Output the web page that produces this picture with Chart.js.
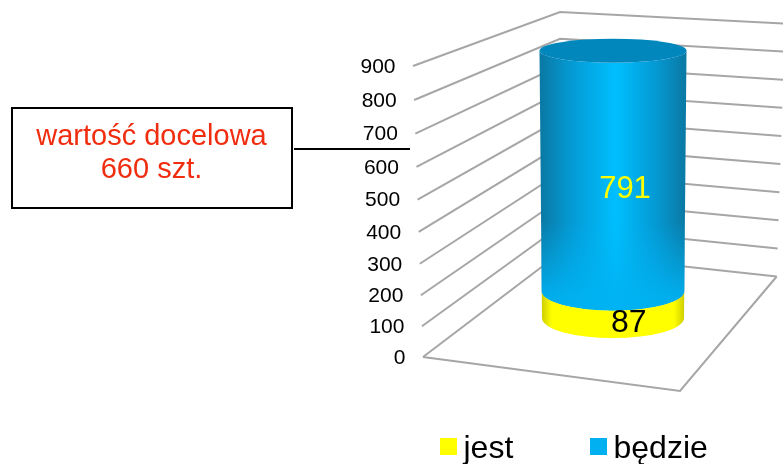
<!DOCTYPE html>
<html>
<head>
<meta charset="utf-8">
<style>
  html, body { margin: 0; padding: 0; background: #fff; }
  canvas { display: block; }
</style>
<script src="https://cdn.jsdelivr.net/npm/chart.js@4/dist/chart.umd.min.js"></script>
</head>
<body>
<canvas id="chart-cyl" width="783" height="464"></canvas>
<script>
var categories = [''];
var seriesNames = ['jest', 'będzie'];
var jest = [87];
var bedzie = [791];
var calloutLines = ['wartość docelowa', '660 szt.'];

var FONT = '"Liberation Sans", Arial, sans-serif';
var GRID = '#a6a6a6';

// wall edges of the fake 3D box, [x, y] at value 0 and at axis max
var frontEdge = [[423, 357], [413, 66]];
var backEdge = [[560, 253], [560, 12]];
var sideEdge = [[776.7, 276.5], [785, 23.5]];
var floorFront = [680, 391];

function lerp(a, b, t) { return a + (b - a) * t; }
function edgePoint(edge, f) {
    return [lerp(edge[0][0], edge[1][0], f), lerp(edge[0][1], edge[1][1], f)];
}
// front edge is a bit closer to the viewer, ticks spread towards the top
function frontPoint(f) {
    return edgePoint(frontEdge, f / (f + (1 - f) * 1.06));
}
function line(ctx, pts) {
    ctx.beginPath();
    ctx.moveTo(pts[0][0], pts[0][1]);
    for (var i = 1; i < pts.length; i++) ctx.lineTo(pts[i][0], pts[i][1]);
    ctx.stroke();
}

// cylinder narrows towards the bottom and its ellipses open up
function radiusX(y, area) { return (area.right - area.left) / 2 + (area.bottom - y) * 0.0094; }
function radiusY(y) { return 12 + (y - 51) * 0.03; }

function sideGradient(ctx, cx, rx, ds) {
    var g = ctx.createLinearGradient(cx - rx, 0, cx + rx, 0);
    g.addColorStop(0, ds.edgeColor);
    g.addColorStop(ds.midStop, ds.midColor);
    g.addColorStop(0.52, ds.lightColor);
    g.addColorStop(1 - ds.midStop, ds.midColor);
    g.addColorStop(1, ds.edgeColor);
    return g;
}

var box3d = {
    id: 'box3d',
    beforeDatasetsDraw: function(chart) {
        var ctx = chart.ctx, y = chart.scales.y;
        ctx.save();
        ctx.strokeStyle = GRID;
        ctx.lineWidth = 2;
        y.ticks.forEach(function(t) {
            var f = y.getDecimalForPixel(y.getPixelForValue(t.value));
            line(ctx, [frontPoint(f), edgePoint(backEdge, f), edgePoint(sideEdge, f)]);
            ctx.font = '21px ' + FONT;
            ctx.fillStyle = '#000';
            ctx.textAlign = 'right';
            ctx.textBaseline = 'middle';
            var p = frontPoint(f);
            ctx.fillText(t.value, p[0] - 17.5, p[1] + 1);
        });
        line(ctx, [frontEdge[0], floorFront, sideEdge[0]]);
        ctx.restore();
    },
    // cylinders instead of the flat bars, first dataset is painted last
    beforeDatasetDraw: function(chart, args) {
        var ctx = chart.ctx, area = chart.chartArea;
        var el = args.meta.data[0];
        var ds = chart.data.datasets[args.index];
        var top = el.y, bot = el.base, cx = el.x;
        var rt = radiusX(top, area), rb = radiusX(bot, area);
        ctx.save();
        ctx.beginPath();
        ctx.moveTo(cx - rt, top);
        ctx.lineTo(cx - rb, bot);
        ctx.ellipse(cx, bot, rb, radiusY(bot), 0, Math.PI, 0, true);
        ctx.lineTo(cx + rt, top);
        ctx.ellipse(cx, top, rt, radiusY(top), 0, 0, Math.PI, false);
        ctx.closePath();
        ctx.fillStyle = sideGradient(ctx, cx, rb, ds);
        ctx.fill();
        if (ds.fadeColor) {
            // shading flattens out towards the lower end
            var fade = ctx.createLinearGradient(0, bot - 70, 0, bot + 5);
            fade.addColorStop(0, ds.fadeColor + '00');
            fade.addColorStop(1, ds.fadeColor + 'e6');
            ctx.fillStyle = fade;
            ctx.fill();
        }
        if (args.index === chart.data.datasets.length - 1) {
            ctx.beginPath();
            ctx.ellipse(cx, top, rt, radiusY(top), 0, 0, Math.PI * 2);
            ctx.fillStyle = ds.capColor;
            ctx.fill();
        }
        ctx.restore();
        return false;
    },
    afterDatasetsDraw: function(chart) {
        var ctx = chart.ctx;
        ctx.save();
        ctx.textAlign = 'center';
        ctx.textBaseline = 'middle';
        chart.data.datasets.forEach(function(ds, i) {
            var el = chart.getDatasetMeta(i).data[0];
            ctx.font = ds.valueSize + 'px ' + FONT;
            ctx.fillStyle = ds.valueColor;
            ctx.fillText(ds.data[0], el.x + ds.valueShift, (el.y + el.base) / 2 + 18.5);
        });
        ctx.restore();
    },
    afterDraw: function(chart) {
        var ctx = chart.ctx;
        ctx.save();
        // callout
        ctx.strokeStyle = '#000';
        ctx.lineWidth = 2;
        ctx.strokeRect(12, 108, 280, 100);
        line(ctx, [[294, 149], [410, 149]]);
        ctx.fillStyle = '#f02d0f';
        ctx.font = '29px ' + FONT;
        ctx.textAlign = 'center';
        ctx.textBaseline = 'alphabetic';
        ctx.fillText(calloutLines[0], 151.5, 145);
        ctx.fillText(calloutLines[1], 151.5, 178);
        // legend, built-in one keeps a gap too wide for this font size
        var boxX = [440, 590];
        ctx.font = '32px ' + FONT;
        ctx.textAlign = 'left';
        chart.data.datasets.forEach(function(ds, i) {
            ctx.fillStyle = ds.backgroundColor;
            ctx.fillRect(boxX[i], 438, 17, 17);
            ctx.fillStyle = '#000';
            ctx.fillText(ds.label, boxX[i] + 23.5, 458);
        });
        ctx.restore();
    }
};

var config = {
    type: 'bar',
    data: {
        labels: categories,
        datasets: [{
            label: seriesNames[0],
            data: jest,
            backgroundColor: '#ffff00',
            edgeColor: '#cfcf00',
            midColor: '#ffff00',
            midStop: 0.07,
            lightColor: '#ffff00',
            valueColor: '#000',
            valueSize: 32,
            valueShift: 15.7
        }, {
            label: seriesNames[1],
            data: bedzie,
            backgroundColor: '#00b0f0',
            edgeColor: '#0a7aa6',
            midColor: '#0499d3',
            midStop: 0.2,
            lightColor: '#00bfff',
            fadeColor: '#00b2f2',
            capColor: '#0287bd',
            valueColor: '#ffff00',
            valueSize: 31,
            valueShift: 12
        }]
    },
    options: {
        responsive: false,
        animation: false,
        layout: { padding: { left: 542, right: 99, top: 44, bottom: 146 } },
        datasets: { bar: { barPercentage: 1, categoryPercentage: 1 } },
        plugins: { legend: { display: false }, tooltip: { enabled: false } },
        scales: {
            x: { stacked: true, display: false },
            y: { stacked: true, display: false, min: 0, max: 900, ticks: { stepSize: 100 } }
        }
    },
    plugins: [box3d]
};

window.onload = function() {
    var ctx = document.getElementById('chart-cyl').getContext('2d');
    window.myCyl = new Chart(ctx, config);
};
</script>
</body>
</html>
